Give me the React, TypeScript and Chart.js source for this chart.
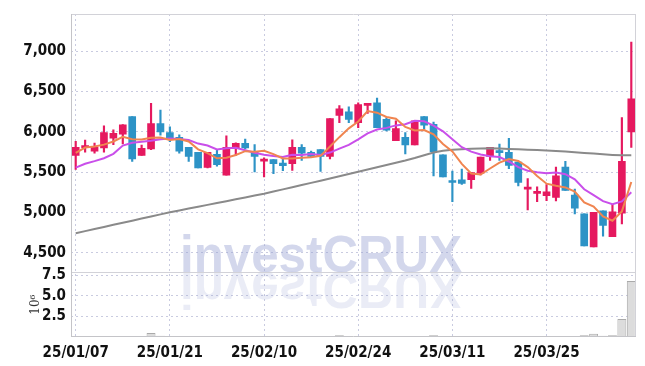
import React, { useEffect, useRef } from 'react';
import { Chart, registerables } from 'chart.js';

Chart.register(...registerables);

const dates = [
  '25/01/07','25/01/08','25/01/09','25/01/10','25/01/13','25/01/14','25/01/15','25/01/16','25/01/17','25/01/20',
  '25/01/21','25/01/22','25/01/23','25/01/24','25/01/31','25/02/03','25/02/04','25/02/05','25/02/06','25/02/07',
  '25/02/10','25/02/11','25/02/12','25/02/13','25/02/14','25/02/17','25/02/18','25/02/19','25/02/20','25/02/21',
  '25/02/24','25/02/25','25/02/26','25/02/27','25/02/28','25/03/04','25/03/05','25/03/06','25/03/07','25/03/10',
  '25/03/11','25/03/12','25/03/13','25/03/14','25/03/17','25/03/18','25/03/19','25/03/20','25/03/21','25/03/24',
  '25/03/25','25/03/26','25/03/27','25/03/28','25/03/31','25/04/01','25/04/02','25/04/03','25/04/04','25/04/07',
];

const opens = [
  5706,5804,5759,5800,5922,5971,6188,5706,5788,6102,
  5992,5931,5808,5747,5560,5722,5461,5804,5857,5755,
  5637,5657,5612,5604,5808,5747,5780,5694,6204,6249,
  6114,6327,6359,6155,5890,5931,5837,6188,6094,5714,
  5392,5404,5408,5486,5694,5763,5747,5624,5290,5237,
  5208,5187,5563,5216,4983,4571,5020,4698,4991,6000,
];
const highs = [
  5882,5898,5861,6073,6024,6090,6188,5837,6355,6269,
  6061,5963,5808,5747,5745,5780,5951,5865,5910,5841,
  5677,5657,5665,5902,5841,5760,5780,6163,6327,6310,
  6359,6355,6420,6175,6135,5992,6135,6188,6122,5714,
  5514,5539,5494,5686,5808,5849,5918,5624,5420,5318,
  5347,5563,5633,5290,4983,5000,5020,5102,6176,7115,
];
const lows = [
  5535,5747,5735,5747,5841,5849,5633,5706,5780,5959,
  5878,5735,5633,5551,5551,5575,5461,5706,5788,5502,
  5441,5481,5518,5522,5645,5690,5510,5665,6114,6114,
  6053,6229,6053,6012,5890,5726,5837,6033,5453,5441,
  5134,5347,5298,5465,5645,5645,5543,5330,5032,5134,
  5147,5143,5273,4983,4583,4571,4706,4698,4857,5808,
];
const closes = [
  5808,5829,5808,5992,5980,6086,5665,5796,6102,6000,
  5910,5759,5694,5551,5745,5592,5808,5857,5800,5694,
  5661,5604,5580,5808,5735,5694,5694,6163,6286,6155,
  6339,6355,6053,6020,6041,5837,6135,6082,5755,5441,
  5371,5359,5494,5686,5808,5743,5584,5371,5310,5257,
  5257,5453,5273,5053,4583,5000,4840,5008,5633,6408,
];

const ma5 = [
  5739,5805,5818,5841,5880,5939,5908,5905,5926,5930,
  5898,5912,5880,5783,5735,5672,5678,5712,5760,5752,
  5764,5724,5670,5670,5678,5684,5702,5818,5934,6043,
  6128,6258,6238,6184,6162,6061,6018,6022,5970,5850,
  5757,5603,5484,5470,5545,5618,5662,5638,5563,5453,
  5357,5330,5310,5260,5124,5072,4950,4897,5013,5378,
];
const ma10 = [
  5555,5604,5637,5673,5727,5829,5865,5878,5890,5907,
  5917,5910,5898,5854,5831,5782,5796,5802,5772,5741,
  5716,5701,5689,5715,5714,5724,5713,5743,5792,5838,
  5906,5981,6028,6049,6080,6094,6138,6130,6077,6006,
  5909,5809,5754,5720,5697,5687,5632,5561,5517,5498,
  5487,5496,5474,5411,5288,5214,5140,5103,5136,5251,
];
const maLong = [
  4742,4768,4794,4820,4846,4872,4898,4924,4950,4976,
  5002,5025,5048,5071,5094,5117,5140,5163,5186,5209,
  5232,5259,5286,5313,5340,5367,5394,5421,5448,5476,
  5504,5532,5560,5588,5616,5644,5675,5710,5744,5764,
  5778,5784,5789,5793,5795,5792,5788,5784,5779,5774,
  5768,5762,5755,5746,5738,5730,5722,5714,5708,5710,
];

// volume in millions of shares
const volumes = [
  0.05,0.04,0.05,0.12,0.04,0.05,0.10,0.05,0.50,0.15,
  0.04,0.03,0.03,0.03,0.03,0.03,0.04,0.03,0.03,0.03,
  0.03,0.03,0.03,0.10,0.04,0.04,0.04,0.12,0.22,0.12,
  0.10,0.10,0.10,0.04,0.04,0.08,0.08,0.04,0.20,0.10,
  0.03,0.03,0.03,0.08,0.03,0.03,0.06,0.06,0.06,0.06,
  0.03,0.07,0.07,0.07,0.20,0.38,0.15,0.22,2.20,6.80,
];

const priceTicks = [4500, 5000, 5500, 6000, 6500, 7000];
const volumeTicks = [2.5, 5.0, 7.5];

const UP = '#E5195F';
const DOWN = '#2D93C6';
const GRID = '#c9cbe0';
const TICK_FONT = { family: "'Liberation Sans Narrow', 'DejaVu Sans Condensed', sans-serif", size: 15, weight: 'bold' };

const watermarkPlugin = {
  id: 'watermark',
  beforeDatasetsDraw(chart: any) {
    const ctx = chart.ctx as CanvasRenderingContext2D;
    const text = 'investCRUX';
    ctx.save();
    ctx.font = "bold 52px 'Liberation Sans', sans-serif";
    ctx.textBaseline = 'alphabetic';
    ctx.textAlign = 'left';
    const w = ctx.measureText(text).width;
    ctx.translate(180, 272);
    ctx.scale(282 / w, 1);
    ctx.fillStyle = 'rgba(150,160,210,0.42)';
    ctx.fillText(text, 0, 0);
    ctx.scale(1, -1);
    ctx.fillStyle = 'rgba(150,160,210,0.2)';
    ctx.fillText(text, 0, 0);
    ctx.restore();
  },
};

const framePlugin = {
  id: 'frame',
  afterDatasetsDraw(chart: any) {
    const ctx = chart.ctx as CanvasRenderingContext2D;
    const { left, right, top, bottom } = chart.chartArea;
    const sep = Math.round(chart.scales.y.bottom) + 0.5;
    ctx.save();
    ctx.lineWidth = 1;
    ctx.strokeStyle = '#d2d2d8';
    ctx.beginPath();
    ctx.moveTo(left, Math.round(top) + 0.5);
    ctx.lineTo(right, Math.round(top) + 0.5);
    ctx.moveTo(Math.round(right) - 0.5, top);
    ctx.lineTo(Math.round(right) - 0.5, bottom);
    ctx.moveTo(left, sep);
    ctx.lineTo(right, sep);
    ctx.stroke();
    ctx.strokeStyle = '#c4c4c8';
    ctx.beginPath();
    ctx.moveTo(Math.round(left) + 0.5, top);
    ctx.lineTo(Math.round(left) + 0.5, bottom);
    ctx.moveTo(left, Math.round(bottom) - 0.5);
    ctx.lineTo(right, Math.round(bottom) - 0.5);
    ctx.stroke();
    ctx.restore();
  },
};

export default function App() {
  const ref = useRef<HTMLCanvasElement>(null);

  useEffect(() => {
    document.body.style.margin = '0';
    const canvas = ref.current;
    if (!canvas) return;
    const colors = closes.map((c, i) => (c >= opens[i] ? UP : DOWN));

    const chart = new Chart(canvas, {
      type: 'bar',
      data: {
        labels: dates,
        datasets: [
          {
            type: 'line', label: 'MA5', data: ma5, yAxisID: 'y',
            borderColor: '#F08550', borderWidth: 2, pointRadius: 0, tension: 0, order: 0,
          } as any,
          {
            type: 'line', label: 'MA10', data: ma10, yAxisID: 'y',
            borderColor: '#C94FEA', borderWidth: 2, pointRadius: 0, tension: 0, order: 1,
          } as any,
          {
            type: 'line', label: 'MA-long', data: maLong, yAxisID: 'y',
            borderColor: '#8a8a8a', borderWidth: 2, pointRadius: 0, tension: 0, order: 2,
          } as any,
          {
            type: 'bar', label: 'body', data: opens.map((o, i) => [o, closes[i]]), yAxisID: 'y',
            backgroundColor: colors, barThickness: 7, minBarLength: 2, grouped: false, order: 3,
          } as any,
          {
            type: 'bar', label: 'wick', data: lows.map((l, i) => [l, highs[i]]), yAxisID: 'y',
            backgroundColor: colors, barThickness: 1.5, grouped: false, order: 4,
          } as any,
          {
            type: 'bar', label: 'volume', data: volumes, yAxisID: 'v',
            backgroundColor: '#dcdcdc', borderColor: '#aaaaaa', borderWidth: 1,
            barPercentage: 0.95, categoryPercentage: 1, grouped: false, order: 5,
          } as any,
        ],
      },
      options: {
        animation: false,
        responsive: true,
        maintainAspectRatio: false,
        devicePixelRatio: 1,
        layout: { padding: { top: 10, right: 9, left: 0, bottom: 0 } },
        plugins: { legend: { display: false }, tooltip: { enabled: false } },
        scales: {
          x: {
            type: 'category',
            offset: true,
            grid: { offset: false, color: GRID, drawTicks: false, lineWidth: 1 },
            border: { display: false, dash: [2, 3] },
            ticks: {
              autoSkip: false, maxRotation: 0, minRotation: 0, padding: 7,
              color: '#111', font: TICK_FONT,
            },
            afterBuildTicks: (axis: any) => {
              axis.ticks = axis.ticks.filter((t: any) => t.value % 10 === 0);
            },
            afterFit: (axis: any) => { axis.height = 29; },
          },
          v: {
            type: 'linear',
            position: 'left',
            stack: 'panels',
            stackWeight: 1,
            min: 0,
            max: 7.85,
            grid: { color: GRID, drawTicks: false },
            border: { display: false, dash: [2, 3] },
            ticks: {
              autoSkip: false, padding: 5, color: '#111', font: TICK_FONT,
              callback: (v: any) => Number(v).toFixed(1),
            },
            title: {
              display: true, text: '10⁶', color: '#333',
              font: { family: "'DejaVu Serif', serif", size: 12 },
              padding: { top: 29, bottom: 0 },
            },
            afterBuildTicks: (axis: any) => { axis.ticks = volumeTicks.map((v) => ({ value: v })); },
            afterFit: (axis: any) => { axis.width = 71; },
          },
          y: {
            type: 'linear',
            position: 'left',
            stack: 'panels',
            stackWeight: 4,
            min: 4256,
            max: 7462,
            grid: { color: GRID, drawTicks: false },
            border: { display: false, dash: [2, 3] },
            ticks: {
              autoSkip: false, padding: 5, color: '#111', font: TICK_FONT,
              callback: (v: any) => Number(v).toLocaleString('en-US'),
            },
            afterBuildTicks: (axis: any) => { axis.ticks = priceTicks.map((v) => ({ value: v })); },
            afterFit: (axis: any) => { axis.width = 71; },
          },
        },
      } as any,
      plugins: [watermarkPlugin, framePlugin],
    });

    return () => chart.destroy();
  }, []);

  return (
    <div style={{ width: 645, height: 366, position: 'relative' }}>
      <canvas ref={ref} />
    </div>
  );
}
